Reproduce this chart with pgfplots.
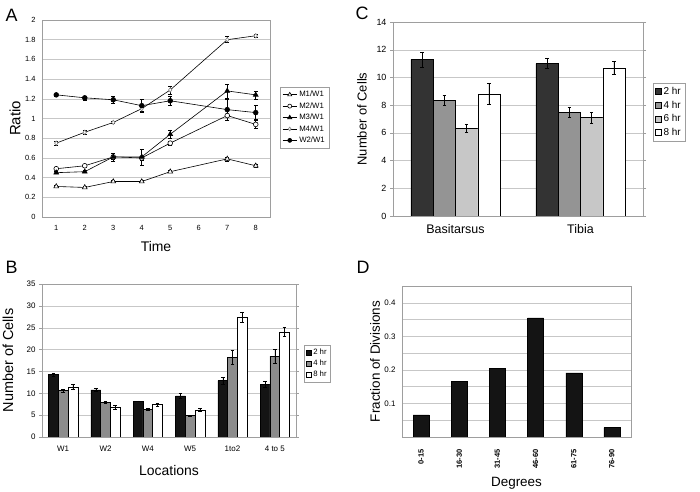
\documentclass[border=0pt]{standalone}
\usepackage{fontspec}
\setmainfont{Liberation Sans}
\usepackage{pgfplots}
\pgfplotsset{compat=1.18}

\definecolor{gridc}{gray}{0.78}
\definecolor{framec}{gray}{0.62}

\pgfplotsset{
  panel/.style={
    scale only axis,
    anchor=north west,
    axis line style={framec},
    ymajorgrids,
    grid style={gridc, line width=0.4pt},
    tick style={framec},
    tick align=outside,
    major tick length=3bp,
    /pgf/number format/assume math mode=true,
    tick label style={black},
    legend cell align=left,
  },
  ebar/.style={
    error bars/.cd, y dir=both, y explicit,
    error bar style={black, line width=0.5pt},
    error mark options={rotate=90, mark size=1.8bp, black, line width=0.5pt},
  },
  sq legend/.style={
    legend image code/.code={\draw[##1,draw=black,line width=0.4pt] (0bp,-2.5bp) rectangle (5bp,2.5bp);}
  },
}

\begin{document}
\begin{tikzpicture}
\path[use as bounding box] (0,0) rectangle (700bp,492bp);

% panel letters
\node[anchor=base west, font=\fontsize{18}{18}\selectfont] at (2bp,470bp) {A};
\node[anchor=base west, font=\fontsize{18}{18}\selectfont] at (2bp,218bp) {B};
\node[anchor=base west, font=\fontsize{18}{18}\selectfont] at (352bp,472bp) {C};
\node[anchor=base west, font=\fontsize{18}{18}\selectfont] at (353bp,218bp) {D};

% ---------- A ----------
\begin{axis}[panel,
  at={(42bp,472bp)}, width=228bp, height=197bp,
  xmin=0.5, xmax=8.5, ymin=0, ymax=2,
  xtick={1,...,8}, ytick={0,0.2,...,2},
  x tick style={draw=none},
  minor xtick={0.5,1.5,...,8.5}, minor tick length=3bp,
  y tick style={draw=none},
  tick label style={font=\fontsize{7.5}{8}\selectfont},
  xticklabel style={yshift=-2bp},
  xlabel={Time}, ylabel={Ratio},
  xlabel style={at={(axis description cs:0.5,-0.152)}, anchor=center, font=\fontsize{14}{14}\selectfont},
  ylabel style={at={(axis description cs:-0.118,0.5)}, anchor=center, font=\fontsize{15}{15}\selectfont},
  legend style={at={(1.044,0.66)}, anchor=north west, draw=framec,
    font=\fontsize{7.8}{8.5}\selectfont, row sep=0.3bp, inner sep=2bp},
  legend image post style={scale=0.85},
]
\addplot[black, line width=0.6pt, mark=triangle*, mark options={fill=white, scale=1.4}, ebar]
  coordinates {(1,0.31)+-(0,0.01) (2,0.30)+-(0,0.01) (3,0.36)+-(0,0.01) (4,0.36)+-(0,0.01)
               (5,0.46)+-(0,0.01) (7,0.59)+-(0,0.02) (8,0.52)+-(0,0.02)};
\addplot[black, line width=0.6pt, mark=*, mark options={fill=white, scale=1.2}, ebar]
  coordinates {(1,0.49)+-(0,0.01) (2,0.52)+-(0,0.01) (3,0.61)+-(0,0.02) (4,0.60)+-(0,0.02)
               (5,0.75)+-(0,0.02) (7,1.03)+-(0,0.05) (8,0.94)+-(0,0.04)};
\addplot[black, line width=0.6pt, mark=triangle*, mark options={fill=black, scale=1.4}, ebar]
  coordinates {(1,0.45)+-(0,0.01) (2,0.46)+-(0,0.01) (3,0.61)+-(0,0.04) (4,0.61)+-(0,0.08)
               (5,0.84)+-(0,0.04) (7,1.28)+-(0,0.07) (8,1.24)+-(0,0.04)};
\addplot[black, line width=0.6pt, mark=diamond*, mark options={fill=white, draw=gray, scale=1.1}, ebar]
  coordinates {(1,0.75)+-(0,0.02) (2,0.86)+-(0,0.02) (3,0.96)+-(0,0.01) (4,1.10)+-(0,0.03)
               (5,1.29)+-(0,0.04) (7,1.80)+-(0,0.03) (8,1.84)+-(0,0.02)};
\addplot[black, line width=0.6pt, mark=*, mark options={fill=black, scale=1.2}, ebar]
  coordinates {(1,1.24)+-(0,0.01) (2,1.21)+-(0,0.02) (3,1.19)+-(0,0.04) (4,1.13)+-(0,0.07)
               (5,1.18)+-(0,0.05) (7,1.09)+-(0,0.11) (8,1.06)+-(0,0.07)};
\legend{M1/W1, M2/W1, M3/W1, M4/W1, W2/W1}
\end{axis}

% ---------- B ----------
\begin{axis}[panel,
  at={(42bp,208bp)}, width=254bp, height=153bp,
  ybar=0pt, bar width=9.7bp,
  xmin=-0.5, xmax=5.5, ymin=0, ymax=35,
  xtick={0,...,5}, xticklabels={W1, W2, W4, W5, 1to2, 4 to 5},
  x tick style={draw=none},
  minor xtick={-0.5,0.5,...,5.5}, minor tick length=3bp,
  ytick={0,5,...,35},
  tick label style={font=\fontsize{8}{9}\selectfont},
  xticklabel style={yshift=-2bp},
  xlabel={Locations}, ylabel={Number of Cells},
  xlabel style={at={(axis description cs:0.5,-0.222)}, anchor=center, font=\fontsize{14}{14}\selectfont},
  ylabel style={at={(axis description cs:-0.134,0.5)}, anchor=center, font=\fontsize{14.5}{14.5}\selectfont},
  legend style={at={(1.031,0.601)}, anchor=north west, draw=framec,
    font=\fontsize{7.8}{8.5}\selectfont, row sep=0bp, inner sep=1.8bp},
  sq legend,
]
\addplot[fill=black!92, draw=black, ebar]
  coordinates {(0,14.3)+-(0,0.3) (1,10.8)+-(0,0.4) (2,8.2)+-(0,0.05) (3,9.4)+-(0,0.6) (4,12.9)+-(0,0.8) (5,12.1)+-(0,0.7)};
\addplot[fill=black!45, draw=black, ebar]
  coordinates {(0,10.6)+-(0,0.3) (1,8.0)+-(0,0.2) (2,6.4)+-(0,0.2) (3,4.9)+-(0,0.1) (4,18.3)+-(0,1.6) (5,18.5)+-(0,1.6)};
\addplot[fill=white, draw=black, ebar]
  coordinates {(0,11.5)+-(0,0.6) (1,6.8)+-(0,0.5) (2,7.4)+-(0,0.4) (3,6.2)+-(0,0.3) (4,27.4)+-(0,1.2) (5,24.0)+-(0,1.0)};
\legend{2 hr, 4 hr, 8 hr}
\end{axis}

% ---------- C ----------
\begin{axis}[panel,
  at={(393bp,470bp)}, width=250bp, height=194bp,
  ybar=0pt, bar width=22.3bp,
  xmin=-0.5, xmax=1.5, ymin=0, ymax=14,
  xtick={0,1}, xticklabels={Basitarsus, Tibia},
  x tick style={draw=none},
  ytick={0,2,...,14},
  yticklabel style={font=\fontsize{9}{10}\selectfont},
  xticklabel style={font=\fontsize{12.5}{13}\selectfont, yshift=-2bp},
  ylabel={Number of Cells},
  ylabel style={at={(axis description cs:-0.124,0.5)}, anchor=center, font=\fontsize{13}{13}\selectfont},
  legend style={at={(1.04,0.686)}, anchor=north west, draw=framec,
    font=\fontsize{10}{11}\selectfont, row sep=1bp, inner sep=2bp},
  legend image code/.code={\draw[#1,draw=black,line width=0.4pt] (0bp,-3bp) rectangle (6bp,3bp);},
]
\addplot[fill=black!80, draw=black, ebar]
  coordinates {(0,11.3)+-(0,0.55) (1,11.0)+-(0,0.35)};
\addplot[fill=black!42, draw=black, ebar]
  coordinates {(0,8.35)+-(0,0.35) (1,7.5)+-(0,0.35)};
\addplot[fill=black!22, draw=black, ebar]
  coordinates {(0,6.35)+-(0,0.3) (1,7.1)+-(0,0.4)};
\addplot[fill=white, draw=black, ebar]
  coordinates {(0,8.8)+-(0,0.75) (1,10.7)+-(0,0.45)};
\legend{2 hr, 4 hr, 6 hr, 8 hr}
\end{axis}

% ---------- D ----------
\begin{axis}[panel,
  at={(402bp,206bp)}, width=229bp, height=151bp,
  ybar, bar width=16bp,
  xmin=-0.5, xmax=5.5, ymin=0, ymax=0.45,
  xtick={0,...,5}, xticklabels={0-15, 16-30, 31-45, 46-60, 61-75, 76-90},
  x tick style={draw=none}, y tick style={draw=none},
  ytick={0.1,0.2,0.3,0.4},
  minor ytick={0.05,0.15,0.25,0.35},
  yminorgrids, minor grid style={gridc, line width=0.4pt},
  xticklabel style={font=\bfseries\fontsize{7.5}{8}\selectfont, rotate=90, anchor=east, xshift=-6bp},
  yticklabel style={font=\fontsize{8}{9}\selectfont, /pgf/number format/.cd, fixed, precision=1},
  xlabel={Degrees}, ylabel={Fraction of Divisions},
  xlabel style={at={(axis description cs:0.5,-0.305)}, anchor=center, font=\fontsize{13.5}{13.5}\selectfont},
  ylabel style={at={(axis description cs:-0.118,0.5)}, anchor=center, font=\fontsize{13.5}{13.5}\selectfont},
]
\addplot[fill=black!92, draw=black]
  coordinates {(0,0.066) (1,0.165) (2,0.204) (3,0.355) (4,0.191) (5,0.028)};
\end{axis}
\end{tikzpicture}
\end{document}
